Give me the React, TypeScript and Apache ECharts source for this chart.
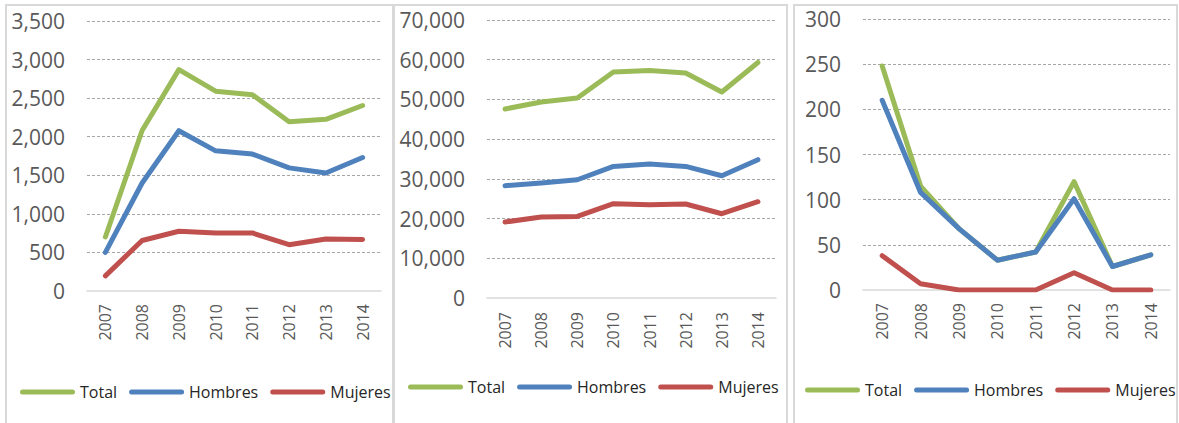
import React, { useEffect, useRef } from "react";
import * as echarts from "echarts";

const years = ["2007", "2008", "2009", "2010", "2011", "2012", "2013", "2014"];
const seriesNames = ["Total", "Hombres", "Mujeres"];
const colors = ["#9BBB59", "#4F81BD", "#C0504D"];

// Panel 1
const p1Total = [700, 2080, 2870, 2590, 2545, 2195, 2225, 2405];
const p1Hombres = [500, 1400, 2078, 1817, 1775, 1596, 1530, 1730];
const p1Mujeres = [196, 655, 775, 752, 752, 600, 675, 668];
// Panel 2
const p2Total = [47600, 49350, 50350, 56900, 57300, 56640, 51860, 59300];
const p2Hombres = [28270, 28950, 29780, 33130, 33730, 33130, 30790, 34820];
const p2Mujeres = [19130, 20390, 20540, 23740, 23490, 23660, 21220, 24240];
// Panel 3
const p3Total = [248, 115, 68, 33, 42, 120, 26, 39];
const p3Hombres = [210, 108, 68, 33, 42, 101, 26, 39];
const p3Mujeres = [38, 7, 0, 0, 0, 19, 0, 0];

const yMax = [3500, 70000, 300];
const yInterval = [500, 10000, 50];

const FONT = "Open Sans";
const iconPath =
  "path://M2.5,0 H52.5 A2.5,2.5 0 0 1 52.5,5 H2.5 A2.5,2.5 0 0 1 2.5,0 Z";

export default function App() {
  const ref = useRef<HTMLDivElement>(null);
  useEffect(() => {
    if (!ref.current) return;
    const chart = echarts.init(ref.current, undefined, { renderer: "svg" });
    const panels = [
      [p1Total, p1Hombres, p1Mujeres],
      [p2Total, p2Hombres, p2Mujeres],
      [p3Total, p3Hombres, p3Mujeres],
    ];
    const grids = [
      { left: 87, width: 294, top: 21, height: 270 },
      { left: 487, width: 289, top: 20, height: 278 },
      { left: 863, width: 307, top: 19, height: 271 },
    ];
    const xMargins = [13, 14, 13];
    const legendPos = [
      { left: 20, top: 382 },
      { left: 408, top: 377 },
      { left: 805, top: 380 },
    ];
    const series: any[] = [];
    panels.forEach((arrs, pi) => {
      arrs.forEach((data, si) => {
        series.push({
          type: "line",
          name: seriesNames[si],
          xAxisIndex: pi,
          yAxisIndex: pi,
          data,
          symbol: "none",
          color: colors[si],
          lineStyle: { width: 5, color: colors[si], cap: "round", join: "round" },
          z: 2 + si,
        });
      });
    });
    chart.setOption({
      animation: false,
      backgroundColor: "#ffffff",
      graphic: [
        { type: "rect", shape: { x: 6, y: 5, width: 387, height: 440 }, style: { fill: "none", stroke: "#d9d9d9", lineWidth: 2 }, z: 0 },
        { type: "rect", shape: { x: 394, y: 5, width: 393, height: 440 }, style: { fill: "none", stroke: "#d9d9d9", lineWidth: 2 }, z: 0 },
        { type: "rect", shape: { x: 794, y: 5, width: 383, height: 440 }, style: { fill: "none", stroke: "#d9d9d9", lineWidth: 2 }, z: 0 },
      ],
      grid: grids.map((g) => ({ ...g, containLabel: false })),
      xAxis: grids.map((_, i) => ({
        type: "category",
        gridIndex: i,
        data: years,
        boundaryGap: true,
        axisLine: { show: true, lineStyle: { color: "#d9d9d9", width: 1.5 } },
        axisTick: { show: false },
        axisLabel: {
          rotate: 90,
          margin: xMargins[i],
          color: "#595959",
          fontFamily: FONT,
          fontSize: 16,
          interval: 0,
        },
      })),
      yAxis: grids.map((_, i) => ({
        type: "value",
        gridIndex: i,
        min: 0,
        max: yMax[i],
        interval: yInterval[i],
        axisLine: { show: false },
        axisTick: { show: false },
        axisLabel: {
          margin: 22,
          color: "#595959",
          fontFamily: FONT,
          fontSize: 21,
          formatter: (v: number) => v.toLocaleString("en-US"),
        },
        splitLine: {
          show: true,
          showMinLine: false,
          lineStyle: { color: "#a6a6a6", type: [3, 2], width: 1 },
        },
      })),
      legend: legendPos.map((p) => ({
        ...p,
        width: 420,
        padding: 0,
        orient: "horizontal",
        data: seriesNames,
        icon: iconPath,
        itemWidth: 55,
        itemHeight: 5,
        itemGap: 12,
        selectedMode: false,
        textStyle: { fontFamily: FONT, fontSize: 16, color: "#262626", lineHeight: 20 },
      })),
      series,
    });
    return () => chart.dispose();
  }, []);
  return (
    <div
      ref={ref}
      style={{ position: "fixed", left: 0, top: 0, width: 1179, height: 423 }}
    />
  );
}
